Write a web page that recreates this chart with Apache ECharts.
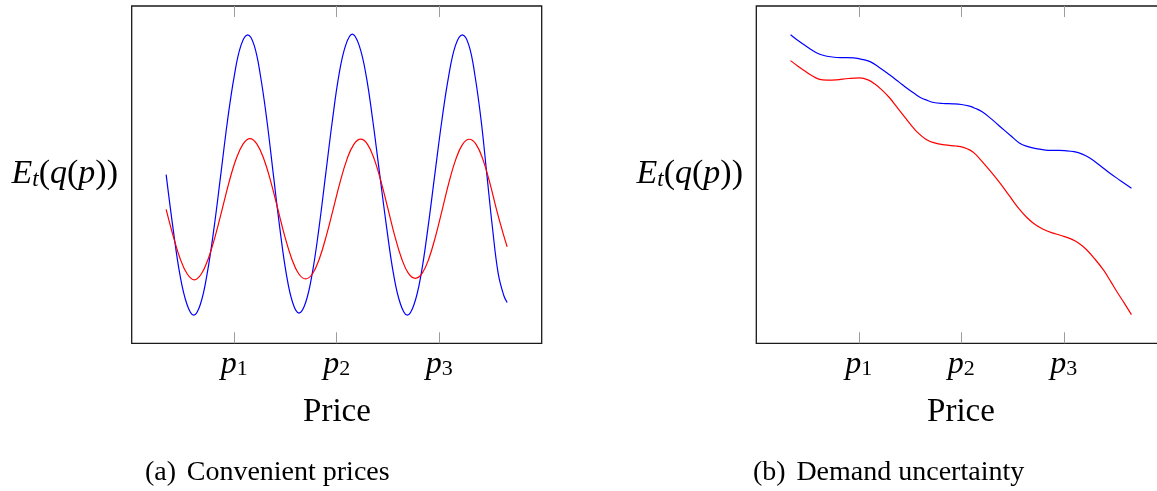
<!DOCTYPE html>
<html>
<head>
<meta charset="utf-8">
<script src="https://cdn.jsdelivr.net/npm/echarts@6/dist/echarts.min.js"></script>
<style>
  html, body { margin: 0; padding: 0; background: #ffffff; }
  #chart { width: 1157px; height: 491px; }
</style>
</head>
<body>
<div id="chart"></div>
<script>
// Price ticks p1, p2, p3 on both panels
const priceTicks = [1, 2, 3];
const tickSubs = ['1', '2', '3'];

// Panel (a): convenient prices — expected demand against price
const convenientBlue = [
  [0.336, 0.00], [0.403, -0.38], [0.47, -0.71], [0.538, -0.92], [0.605, -1.00],
  [0.671, -0.92], [0.737, -0.70], [0.803, -0.38], [0.869, 0.00], [0.934, 0.38],
  [1.00, 0.70], [1.066, 0.92], [1.132, 0.995],
  [1.195, 0.92], [1.257, 0.70], [1.32, 0.38], [1.382, 0.00], [1.445, -0.38],
  [1.507, -0.70], [1.57, -0.91], [1.632, -0.985],
  [1.697, -0.91], [1.762, -0.70], [1.827, -0.38], [1.892, 0.00], [1.957, 0.38],
  [2.022, 0.71], [2.087, 0.92], [2.152, 1.00],
  [2.219, 0.92], [2.286, 0.71], [2.353, 0.38], [2.42, 0.00], [2.488, -0.38],
  [2.555, -0.71], [2.622, -0.92], [2.689, -1.00],
  [2.756, -0.92], [2.823, -0.71], [2.89, -0.38], [2.957, 0.00], [3.025, 0.38],
  [3.092, 0.70], [3.159, 0.92], [3.226, 0.995],
  [3.29, 0.92], [3.35, 0.70], [3.41, 0.38], [3.465, 0.00], [3.52, -0.38],
  [3.575, -0.70], [3.63, -0.86], [3.663, -0.91]
];
const convenientRed = [
  [0.336, -0.247], [0.405, -0.437], [0.473, -0.598], [0.542, -0.707], [0.611, -0.748],
  [0.679, -0.707], [0.747, -0.598], [0.815, -0.437], [0.883, -0.245], [0.95, -0.053],
  [1.018, 0.109], [1.086, 0.217], [1.154, 0.256],
  [1.222, 0.217], [1.29, 0.109], [1.358, -0.053], [1.426, -0.245], [1.493, -0.437],
  [1.561, -0.598], [1.629, -0.705], [1.697, -0.742],
  [1.764, -0.705], [1.831, -0.598], [1.898, -0.437], [1.966, -0.245], [2.033, -0.053],
  [2.10, 0.109], [2.167, 0.216], [2.234, 0.253],
  [2.301, 0.216], [2.367, 0.109], [2.434, -0.053], [2.501, -0.245], [2.567, -0.437],
  [2.634, -0.598], [2.70, -0.703], [2.767, -0.738],
  [2.833, -0.703], [2.899, -0.598], [2.965, -0.437], [3.031, -0.245], [3.096, -0.053],
  [3.162, 0.109], [3.228, 0.216], [3.294, 0.252],
  [3.36, 0.216], [3.426, 0.109], [3.492, -0.053], [3.558, -0.245], [3.624, -0.42],
  [3.663, -0.513]
];

// Panel (b): demand uncertainty
const uncertaintyBlue = [
  [0.334, 9.15], [0.41, 8.97], [0.48, 8.82], [0.55, 8.68], [0.62, 8.57],
  [0.69, 8.51], [0.76, 8.48], [0.85, 8.47], [0.95, 8.46], [1.03, 8.42],
  [1.11, 8.35], [1.20, 8.18], [1.30, 7.96], [1.39, 7.75], [1.47, 7.56],
  [1.54, 7.41], [1.60, 7.29], [1.67, 7.20], [1.73, 7.14], [1.82, 7.11],
  [1.92, 7.10], [2.00, 7.08], [2.08, 7.03], [2.14, 6.96], [2.20, 6.87],
  [2.29, 6.66], [2.38, 6.42], [2.48, 6.16], [2.57, 5.93], [2.65, 5.83],
  [2.73, 5.77], [2.82, 5.73], [2.92, 5.72], [3.01, 5.71], [3.10, 5.68],
  [3.18, 5.61], [3.25, 5.50], [3.35, 5.28], [3.45, 5.04], [3.55, 4.83],
  [3.66, 4.60]
];
const uncertaintyRed = [
  [0.334, 8.38], [0.40, 8.23], [0.47, 8.08], [0.54, 7.94], [0.61, 7.83],
  [0.69, 7.80], [0.78, 7.81], [0.90, 7.85], [1.01, 7.87], [1.09, 7.81],
  [1.16, 7.68], [1.23, 7.50], [1.30, 7.28], [1.37, 7.01], [1.45, 6.70],
  [1.51, 6.47], [1.57, 6.26], [1.65, 6.06], [1.73, 5.95], [1.84, 5.88],
  [1.95, 5.85], [2.02, 5.81], [2.09, 5.72], [2.14, 5.60], [2.20, 5.40],
  [2.29, 5.08], [2.38, 4.74], [2.47, 4.37], [2.56, 4.00], [2.64, 3.73],
  [2.72, 3.52], [2.80, 3.38], [2.88, 3.28], [2.98, 3.19], [3.08, 3.08],
  [3.15, 2.96], [3.22, 2.78], [3.30, 2.51], [3.39, 2.16], [3.46, 1.82],
  [3.52, 1.52], [3.59, 1.19], [3.66, 0.85]
];

const SERIF = '"Liberation Serif", "DejaVu Serif", serif';
const BLUE = '#0000ff';
const RED = '#ff0000';

const chart = echarts.init(document.getElementById('chart'), null, { renderer: 'canvas' });

// panel (b) runs past the right edge of the page
const grids = [
  { left: 131.7, top: 6, width: 410, height: 337.3 },
  { left: 756.3, top: 6, width: 410, height: 337.3 }
];

function tickLabelText(v) {
  const i = priceTicks.indexOf(v);
  return i >= 0 ? '{p|p}{s|' + tickSubs[i] + '}' : '';
}

function xAxes(gridIndex) {
  const common = {
    type: 'value', gridIndex: gridIndex, min: 0, max: 4, interval: 1,
    axisLine: { show: false, onZero: false },
    splitLine: { show: false },
    axisTick: {
      show: true, inside: true, length: 11, customValues: priceTicks,
      lineStyle: { color: '#9c9c9c', width: 1 }
    }
  };
  return [
    Object.assign({}, common, {
      position: 'bottom',
      axisLabel: {
        show: true, margin: 5, customValues: priceTicks,
        formatter: tickLabelText,
        rich: {
          p: { fontFamily: SERIF, fontStyle: 'italic', fontSize: 32, lineHeight: 32, color: '#000' },
          s: { fontFamily: SERIF, fontSize: 22, lineHeight: 13, verticalAlign: 'bottom', color: '#000' }
        }
      }
    }),
    Object.assign({}, common, { position: 'top', axisLabel: { show: false } })
  ];
}

function yAxis(gridIndex, min, max) {
  return {
    type: 'value', gridIndex: gridIndex, min: min, max: max,
    axisLine: { show: false, onZero: false }, axisTick: { show: false },
    axisLabel: { show: false }, splitLine: { show: false }
  };
}

function curve(data, color, xi, yi) {
  return {
    type: 'line', data: data, xAxisIndex: xi, yAxisIndex: yi,
    smooth: 0.4, showSymbol: false, symbol: 'none',
    lineStyle: { color: color, width: 1.2 }, z: 3
  };
}

// E_t(q(p)) label, built from rich text pieces
const eLabelRich = {
  i: { fontFamily: SERIF, fontStyle: 'italic', fontSize: 34, lineHeight: 34, fill: '#000' },
  t: { fontFamily: SERIF, fontStyle: 'italic', fontSize: 23, lineHeight: 17, verticalAlign: 'bottom', fill: '#000' },
  n: { fontFamily: SERIF, fontSize: 34, lineHeight: 34, fill: '#000' }
};
const eLabelText = '{i|E}{t|t}{n|(}{i|q}{n|(}{i|p}{n|))}';

function textEl(x, y, text, size, align) {
  return {
    type: 'text', x: x, y: y,
    style: {
      text: text, fontFamily: SERIF, fontSize: size, fill: '#000',
      align: align, verticalAlign: 'middle'
    }
  };
}

chart.setOption({
  backgroundColor: '#ffffff',
  animation: false,
  grid: grids.map(g => Object.assign({
    show: true, borderColor: '#1a1a1a', borderWidth: 1.3,
    backgroundColor: 'transparent', containLabel: false, outerBoundsMode: 'none'
  }, g)),
  xAxis: xAxes(0).concat(xAxes(1)),
  yAxis: [yAxis(0, -1.2, 1.2), yAxis(1, 0, 10)],
  series: [
    curve(convenientBlue, BLUE, 0, 0),
    curve(convenientRed, RED, 0, 0),
    curve(uncertaintyBlue, BLUE, 2, 1),
    curve(uncertaintyRed, RED, 2, 1)
  ],
  graphic: [
    { type: 'text', x: 118, y: 174, style: { text: eLabelText, rich: eLabelRich, align: 'right', verticalAlign: 'middle' } },
    { type: 'text', x: 743, y: 174, style: { text: eLabelText, rich: eLabelRich, align: 'right', verticalAlign: 'middle' } },
    textEl(337, 412, 'Price', 33, 'center'),
    textEl(961, 412, 'Price', 33, 'center'),
    textEl(145, 472.5, '(a)', 28, 'left'),
    textEl(186.7, 472.5, 'Convenient prices', 28, 'left'),
    textEl(752.9, 472.5, '(b)', 28, 'left'),
    textEl(796.4, 472.5, 'Demand uncertainty', 28, 'left')
  ]
});
</script>
</body>
</html>
